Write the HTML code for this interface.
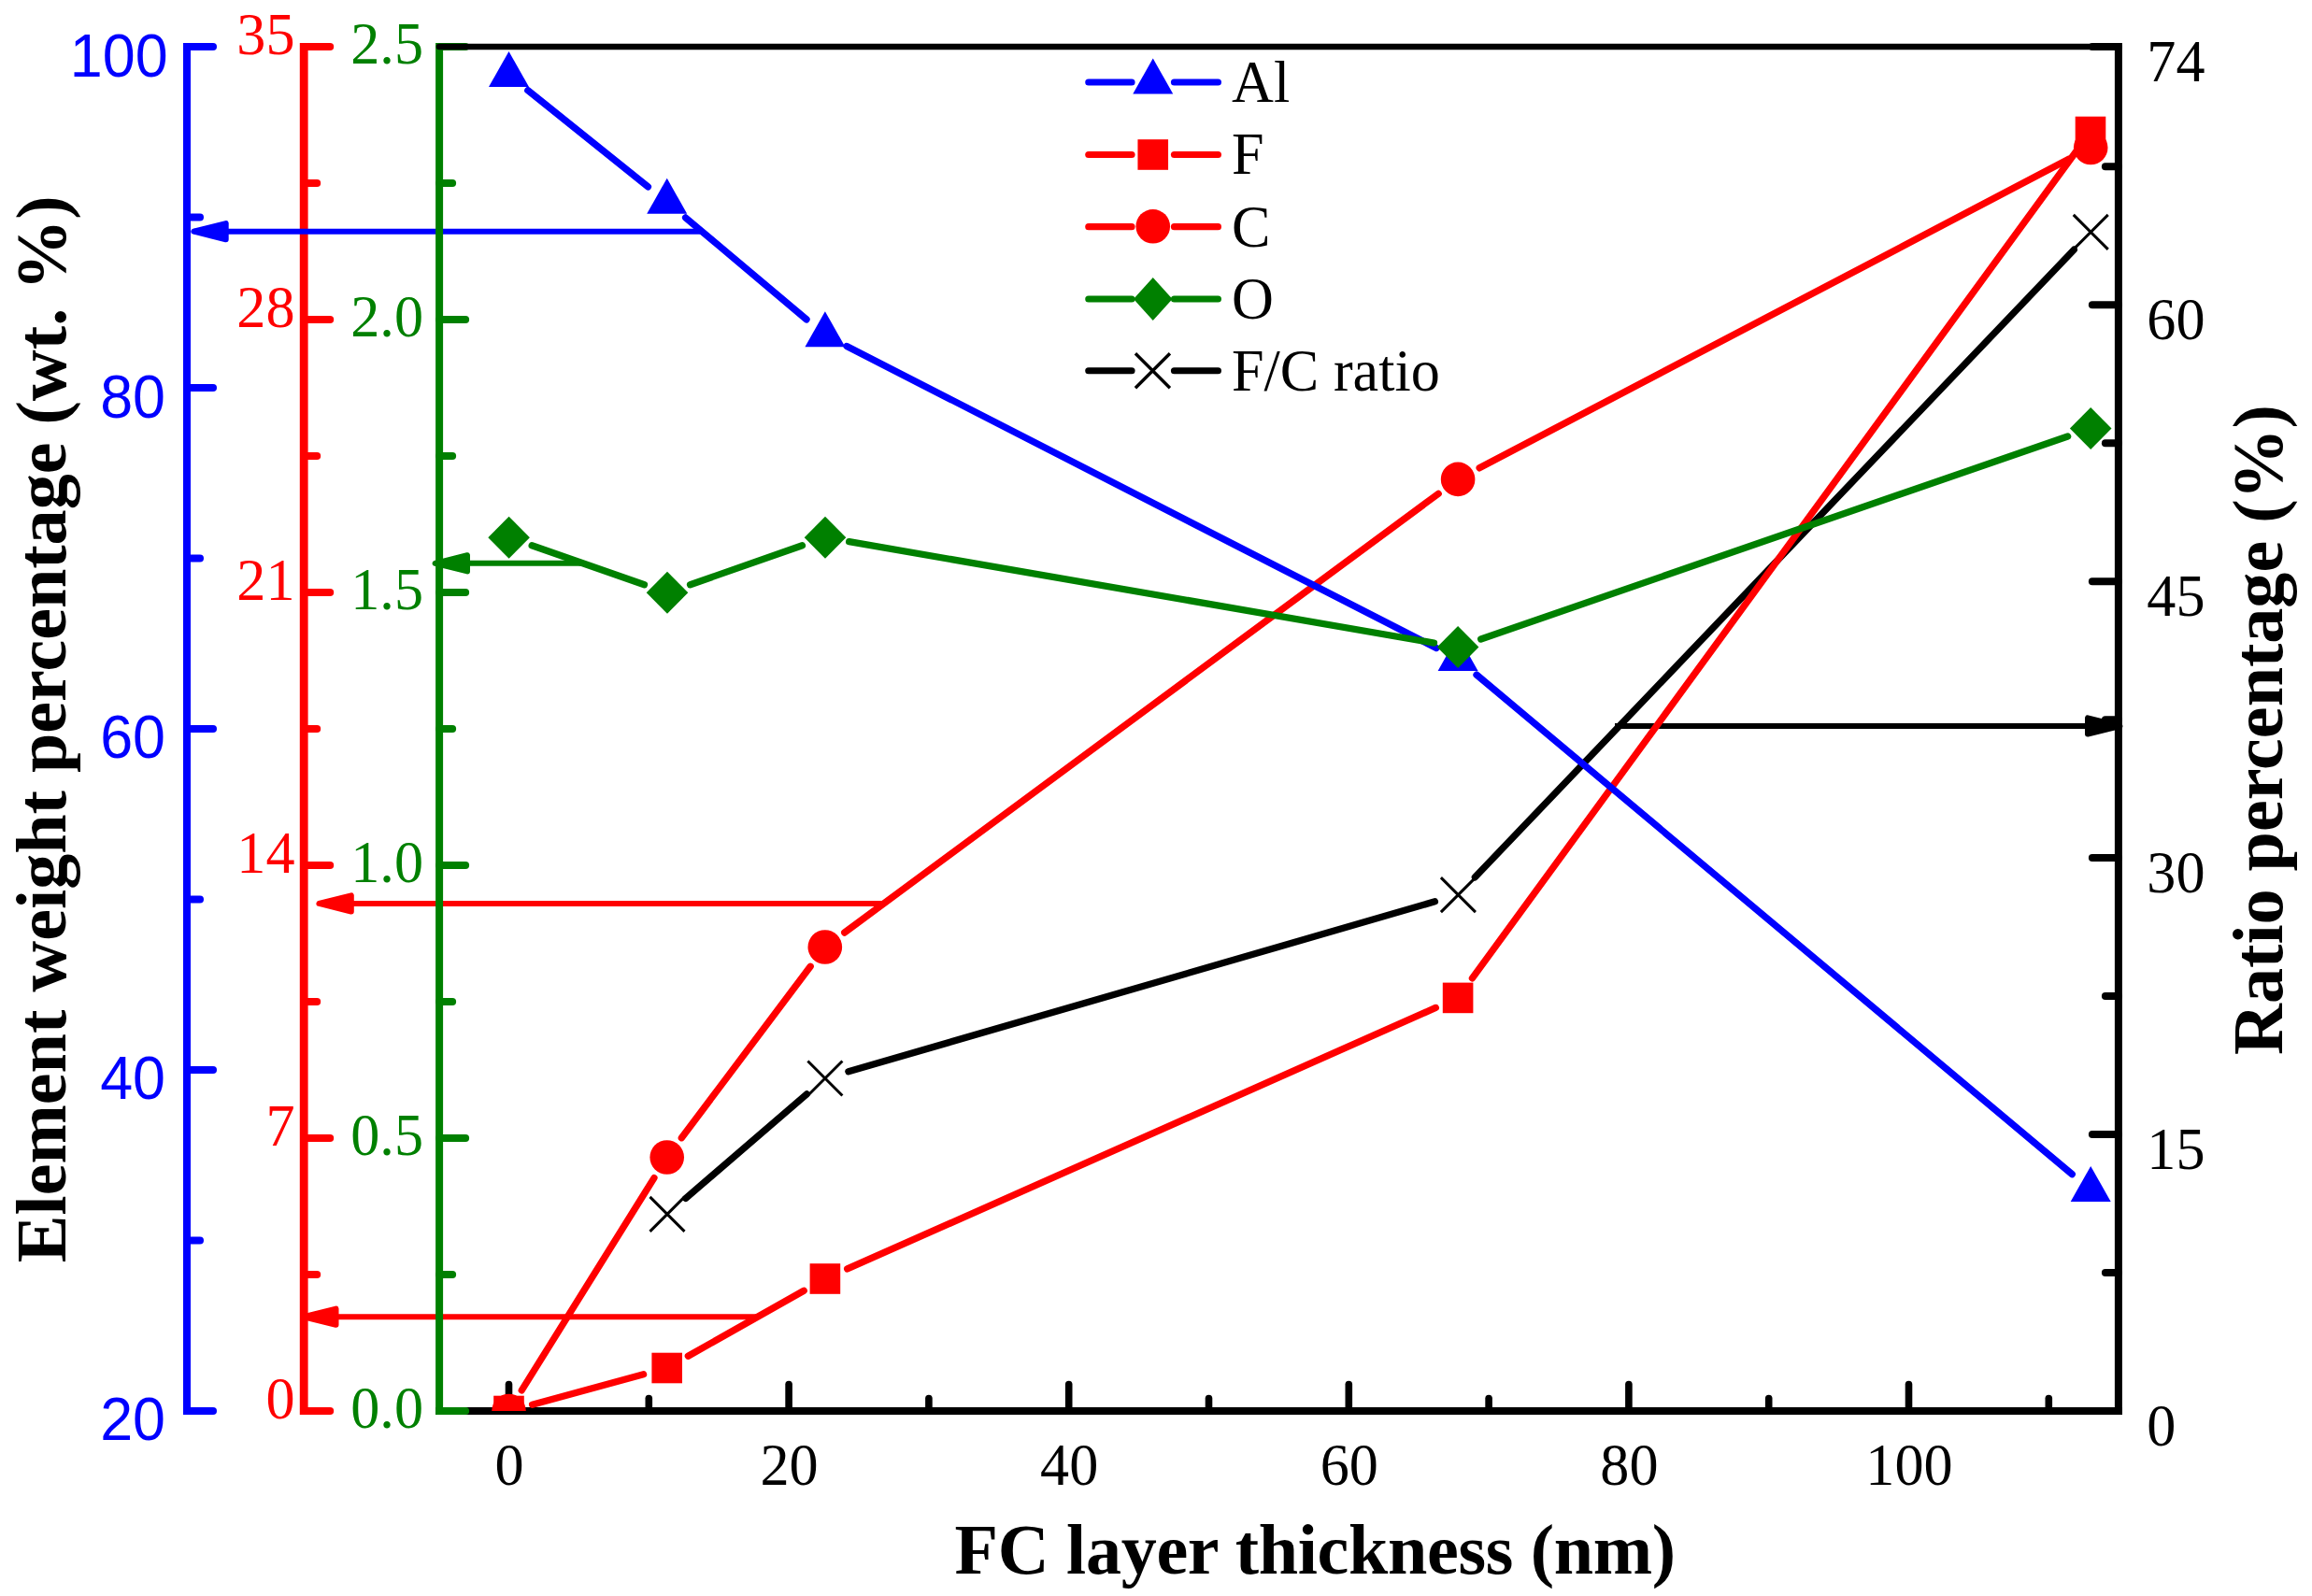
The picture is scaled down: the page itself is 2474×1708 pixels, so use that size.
<!DOCTYPE html>
<html lang="en">
<head>
<meta charset="utf-8">
<title>Element weight percentage vs FC layer thickness</title>
<style>html,body{margin:0;padding:0;background:#fff}svg{display:block}</style>
</head>
<body>
<svg width="2474" height="1708" viewBox="0 0 2474 1708">
<defs><clipPath id="plot"><rect x="470.1" y="0" width="1796.8" height="1510"/></clipPath></defs>
<rect width="2474" height="1708" fill="#ffffff"/>
<line x1="470.1" y1="1510" x2="2266.9" y2="1510" stroke="#000000" stroke-width="8.0" stroke-linecap="square"/>
<line x1="544.5" y1="1510" x2="544.5" y2="1481.5" stroke="#000000" stroke-width="7.6" stroke-linecap="round"/>
<line x1="844.1" y1="1510" x2="844.1" y2="1481.5" stroke="#000000" stroke-width="7.6" stroke-linecap="round"/>
<line x1="1143.7" y1="1510" x2="1143.7" y2="1481.5" stroke="#000000" stroke-width="7.6" stroke-linecap="round"/>
<line x1="1443.3" y1="1510" x2="1443.3" y2="1481.5" stroke="#000000" stroke-width="7.6" stroke-linecap="round"/>
<line x1="1742.9" y1="1510" x2="1742.9" y2="1481.5" stroke="#000000" stroke-width="7.6" stroke-linecap="round"/>
<line x1="2042.5" y1="1510" x2="2042.5" y2="1481.5" stroke="#000000" stroke-width="7.6" stroke-linecap="round"/>
<line x1="694.3" y1="1510" x2="694.3" y2="1496.5" stroke="#000000" stroke-width="7.6" stroke-linecap="round"/>
<line x1="993.9" y1="1510" x2="993.9" y2="1496.5" stroke="#000000" stroke-width="7.6" stroke-linecap="round"/>
<line x1="1293.5" y1="1510" x2="1293.5" y2="1496.5" stroke="#000000" stroke-width="7.6" stroke-linecap="round"/>
<line x1="1593.1" y1="1510" x2="1593.1" y2="1496.5" stroke="#000000" stroke-width="7.6" stroke-linecap="round"/>
<line x1="1892.7" y1="1510" x2="1892.7" y2="1496.5" stroke="#000000" stroke-width="7.6" stroke-linecap="round"/>
<line x1="2192.3" y1="1510" x2="2192.3" y2="1496.5" stroke="#000000" stroke-width="7.6" stroke-linecap="round"/>
<line x1="2266.9" y1="50" x2="2266.9" y2="1510" stroke="#000000" stroke-width="8.0" stroke-linecap="square"/>
<line x1="2266.9" y1="1510" x2="2238.9" y2="1510" stroke="#000000" stroke-width="8.0" stroke-linecap="round"/>
<line x1="2266.9" y1="1214.05" x2="2238.9" y2="1214.05" stroke="#000000" stroke-width="8.0" stroke-linecap="round"/>
<line x1="2266.9" y1="918.11" x2="2238.9" y2="918.11" stroke="#000000" stroke-width="8.0" stroke-linecap="round"/>
<line x1="2266.9" y1="622.16" x2="2238.9" y2="622.16" stroke="#000000" stroke-width="8.0" stroke-linecap="round"/>
<line x1="2266.9" y1="326.22" x2="2238.9" y2="326.22" stroke="#000000" stroke-width="8.0" stroke-linecap="round"/>
<line x1="2266.9" y1="50" x2="2238.9" y2="50" stroke="#000000" stroke-width="8.0" stroke-linecap="round"/>
<line x1="2266.9" y1="1362.03" x2="2252.9" y2="1362.03" stroke="#000000" stroke-width="8.0" stroke-linecap="round"/>
<line x1="2266.9" y1="1066.08" x2="2252.9" y2="1066.08" stroke="#000000" stroke-width="8.0" stroke-linecap="round"/>
<line x1="2266.9" y1="770.14" x2="2252.9" y2="770.14" stroke="#000000" stroke-width="8.0" stroke-linecap="round"/>
<line x1="2266.9" y1="474.19" x2="2252.9" y2="474.19" stroke="#000000" stroke-width="8.0" stroke-linecap="round"/>
<line x1="2266.9" y1="178.24" x2="2252.9" y2="178.24" stroke="#000000" stroke-width="8.0" stroke-linecap="round"/>
<line x1="733.7" y1="1282.44" x2="863.2" y2="1170.96" stroke="#000000" stroke-width="7.3" stroke-linecap="round"/>
<line x1="907.87" y1="1146.76" x2="1535.43" y2="964.84" stroke="#000000" stroke-width="7.3" stroke-linecap="round"/>
<line x1="1578.35" y1="938.79" x2="2219.3" y2="267.21" stroke="#000000" stroke-width="7.3" stroke-linecap="round"/>
<path d="M695.5,1280.9 L732.5,1317.9 M695.5,1317.9 L732.5,1280.9" stroke="#000000" stroke-width="3.0" fill="none"/>
<path d="M864.4,1135.5 L901.4,1172.5 M864.4,1172.5 L901.4,1135.5" stroke="#000000" stroke-width="3.0" fill="none"/>
<path d="M1541.9,939.1 L1578.9,976.1 M1541.9,976.1 L1578.9,939.1" stroke="#000000" stroke-width="3.0" fill="none"/>
<path d="M2218.75,229.9 L2255.75,266.9 M2218.75,266.9 L2255.75,229.9" stroke="#000000" stroke-width="3.0" fill="none"/>
<line x1="1728" y1="777" x2="2268.4" y2="777" stroke="#000000" stroke-width="6.0"/>
<polygon points="2268.4,777 2234,768.4 2234,785.6" fill="#000000" stroke="#000000" stroke-width="6.0" stroke-linejoin="round"/>
<line x1="325.2" y1="50.4" x2="325.2" y2="1509.6" stroke="#ff0000" stroke-width="8.8" stroke-linecap="square"/>
<line x1="325.2" y1="1510" x2="353.2" y2="1510" stroke="#ff0000" stroke-width="8.0" stroke-linecap="round"/>
<line x1="325.2" y1="1218" x2="353.2" y2="1218" stroke="#ff0000" stroke-width="8.0" stroke-linecap="round"/>
<line x1="325.2" y1="926" x2="353.2" y2="926" stroke="#ff0000" stroke-width="8.0" stroke-linecap="round"/>
<line x1="325.2" y1="634" x2="353.2" y2="634" stroke="#ff0000" stroke-width="8.0" stroke-linecap="round"/>
<line x1="325.2" y1="342" x2="353.2" y2="342" stroke="#ff0000" stroke-width="8.0" stroke-linecap="round"/>
<line x1="325.2" y1="50" x2="353.2" y2="50" stroke="#ff0000" stroke-width="8.0" stroke-linecap="round"/>
<line x1="325.2" y1="1364" x2="339.2" y2="1364" stroke="#ff0000" stroke-width="8.0" stroke-linecap="round"/>
<line x1="325.2" y1="1072" x2="339.2" y2="1072" stroke="#ff0000" stroke-width="8.0" stroke-linecap="round"/>
<line x1="325.2" y1="780" x2="339.2" y2="780" stroke="#ff0000" stroke-width="8.0" stroke-linecap="round"/>
<line x1="325.2" y1="488" x2="339.2" y2="488" stroke="#ff0000" stroke-width="8.0" stroke-linecap="round"/>
<line x1="325.2" y1="196" x2="339.2" y2="196" stroke="#ff0000" stroke-width="8.0" stroke-linecap="round"/>
<line x1="569.59" y1="1503.18" x2="688.61" y2="1470.82" stroke="#ff0000" stroke-width="7.3" stroke-linecap="round" clip-path="url(#plot)"/>
<line x1="736.34" y1="1451.22" x2="860.26" y2="1381.28" stroke="#ff0000" stroke-width="7.3" stroke-linecap="round" clip-path="url(#plot)"/>
<line x1="906.66" y1="1357.95" x2="1536.34" y2="1078.45" stroke="#ff0000" stroke-width="7.3" stroke-linecap="round" clip-path="url(#plot)"/>
<line x1="1575.43" y1="1046.9" x2="2221.67" y2="162" stroke="#ff0000" stroke-width="7.3" stroke-linecap="round" clip-path="url(#plot)"/>
<rect x="528.2" y="1493.7" width="32.6" height="32.6" fill="#ff0000" clip-path="url(#plot)"/>
<rect x="697.4" y="1447.7" width="32.6" height="32.6" fill="#ff0000" clip-path="url(#plot)"/>
<rect x="866.6" y="1352.2" width="32.6" height="32.6" fill="#ff0000" clip-path="url(#plot)"/>
<rect x="1543.8" y="1051.6" width="32.6" height="32.6" fill="#ff0000" clip-path="url(#plot)"/>
<rect x="2220.7" y="124.7" width="32.6" height="32.6" fill="#ff0000" clip-path="url(#plot)"/>
<line x1="558.25" y1="1487.93" x2="699.95" y2="1260.57" stroke="#ff0000" stroke-width="7.3" stroke-linecap="round" clip-path="url(#plot)"/>
<line x1="729.32" y1="1217.72" x2="867.18" y2="1034.28" stroke="#ff0000" stroke-width="7.3" stroke-linecap="round" clip-path="url(#plot)"/>
<line x1="903.71" y1="998.05" x2="1539.19" y2="528.35" stroke="#ff0000" stroke-width="7.3" stroke-linecap="round" clip-path="url(#plot)"/>
<line x1="1583.13" y1="500.83" x2="2214.17" y2="170.07" stroke="#ff0000" stroke-width="7.3" stroke-linecap="round" clip-path="url(#plot)"/>
<circle cx="544.5" cy="1510" r="18.3" fill="#ff0000" clip-path="url(#plot)"/>
<circle cx="713.7" cy="1238.5" r="18.3" fill="#ff0000" clip-path="url(#plot)"/>
<circle cx="882.8" cy="1013.5" r="18.3" fill="#ff0000" clip-path="url(#plot)"/>
<circle cx="1560.1" cy="512.9" r="18.3" fill="#ff0000" clip-path="url(#plot)"/>
<circle cx="2237.2" cy="158" r="18.3" fill="#ff0000" clip-path="url(#plot)"/>
<line x1="325.1" y1="1409.25" x2="810.5" y2="1409.25" stroke="#ff0000" stroke-width="6.0"/>
<polygon points="325.1,1409.25 359.5,1400.65 359.5,1417.85" fill="#ff0000" stroke="#ff0000" stroke-width="6.0" stroke-linejoin="round"/>
<line x1="341.4" y1="966.9" x2="945.5" y2="966.9" stroke="#ff0000" stroke-width="6.0"/>
<polygon points="341.4,966.9 375.8,958.3 375.8,975.5" fill="#ff0000" stroke="#ff0000" stroke-width="6.0" stroke-linejoin="round"/>
<line x1="200" y1="50" x2="200" y2="1510" stroke="#0000ff" stroke-width="8.0" stroke-linecap="square"/>
<line x1="200" y1="1510" x2="228" y2="1510" stroke="#0000ff" stroke-width="8.0" stroke-linecap="round"/>
<line x1="200" y1="1145" x2="228" y2="1145" stroke="#0000ff" stroke-width="8.0" stroke-linecap="round"/>
<line x1="200" y1="780" x2="228" y2="780" stroke="#0000ff" stroke-width="8.0" stroke-linecap="round"/>
<line x1="200" y1="415" x2="228" y2="415" stroke="#0000ff" stroke-width="8.0" stroke-linecap="round"/>
<line x1="200" y1="50" x2="228" y2="50" stroke="#0000ff" stroke-width="8.0" stroke-linecap="round"/>
<line x1="200" y1="1327.5" x2="214" y2="1327.5" stroke="#0000ff" stroke-width="8.0" stroke-linecap="round"/>
<line x1="200" y1="962.5" x2="214" y2="962.5" stroke="#0000ff" stroke-width="8.0" stroke-linecap="round"/>
<line x1="200" y1="597.5" x2="214" y2="597.5" stroke="#0000ff" stroke-width="8.0" stroke-linecap="round"/>
<line x1="200" y1="232.5" x2="214" y2="232.5" stroke="#0000ff" stroke-width="8.0" stroke-linecap="round"/>
<line x1="564.78" y1="96.67" x2="693.42" y2="199.93" stroke="#0000ff" stroke-width="7.3" stroke-linecap="round"/>
<line x1="733.59" y1="232.94" x2="863.01" y2="341.86" stroke="#0000ff" stroke-width="7.3" stroke-linecap="round"/>
<line x1="906.04" y1="370.45" x2="1536.96" y2="693.55" stroke="#0000ff" stroke-width="7.3" stroke-linecap="round"/>
<line x1="1580.02" y1="722.11" x2="2217.28" y2="1256.59" stroke="#0000ff" stroke-width="7.3" stroke-linecap="round"/>
<polygon points="544.5,55 523,93 566,93" fill="#0000ff"/>
<polygon points="713.7,190.8 692.2,228.8 735.2,228.8" fill="#0000ff"/>
<polygon points="882.9,333.2 861.4,371.2 904.4,371.2" fill="#0000ff"/>
<polygon points="1560.1,680 1538.6,718 1581.6,718" fill="#0000ff"/>
<polygon points="2237.2,1247.9 2215.7,1285.9 2258.7,1285.9" fill="#0000ff"/>
<line x1="207.3" y1="247.7" x2="750.8" y2="247.7" stroke="#0000ff" stroke-width="6.0"/>
<polygon points="207.3,247.7 241.7,239.1 241.7,256.3" fill="#0000ff" stroke="#0000ff" stroke-width="6.0" stroke-linejoin="round"/>
<line x1="470.1" y1="50" x2="470.1" y2="1510" stroke="#008000" stroke-width="8.0" stroke-linecap="square"/>
<line x1="470.1" y1="1510" x2="498.1" y2="1510" stroke="#008000" stroke-width="8.0" stroke-linecap="round"/>
<line x1="470.1" y1="1218" x2="498.1" y2="1218" stroke="#008000" stroke-width="8.0" stroke-linecap="round"/>
<line x1="470.1" y1="926" x2="498.1" y2="926" stroke="#008000" stroke-width="8.0" stroke-linecap="round"/>
<line x1="470.1" y1="634" x2="498.1" y2="634" stroke="#008000" stroke-width="8.0" stroke-linecap="round"/>
<line x1="470.1" y1="342" x2="498.1" y2="342" stroke="#008000" stroke-width="8.0" stroke-linecap="round"/>
<line x1="470.1" y1="50" x2="498.1" y2="50" stroke="#008000" stroke-width="8.0" stroke-linecap="round"/>
<line x1="470.1" y1="1364" x2="484.1" y2="1364" stroke="#008000" stroke-width="8.0" stroke-linecap="round"/>
<line x1="470.1" y1="1072" x2="484.1" y2="1072" stroke="#008000" stroke-width="8.0" stroke-linecap="round"/>
<line x1="470.1" y1="780" x2="484.1" y2="780" stroke="#008000" stroke-width="8.0" stroke-linecap="round"/>
<line x1="470.1" y1="488" x2="484.1" y2="488" stroke="#008000" stroke-width="8.0" stroke-linecap="round"/>
<line x1="470.1" y1="196" x2="484.1" y2="196" stroke="#008000" stroke-width="8.0" stroke-linecap="round"/>
<line x1="569.15" y1="583.8" x2="689.45" y2="625.7" stroke="#008000" stroke-width="7.3" stroke-linecap="round"/>
<line x1="738.55" y1="625.68" x2="858.45" y2="583.82" stroke="#008000" stroke-width="7.3" stroke-linecap="round"/>
<line x1="908.62" y1="579.69" x2="1534.48" y2="688.06" stroke="#008000" stroke-width="7.3" stroke-linecap="round"/>
<line x1="1584.67" y1="684.01" x2="2212.63" y2="466.99" stroke="#008000" stroke-width="7.3" stroke-linecap="round"/>
<polygon points="544.6,552.65 566.9,575.25 544.6,597.85 522.3,575.25" fill="#008000"/>
<polygon points="714,611.65 736.3,634.25 714,656.85 691.7,634.25" fill="#008000"/>
<polygon points="883,552.65 905.3,575.25 883,597.85 860.7,575.25" fill="#008000"/>
<polygon points="1560.1,669.9 1582.4,692.5 1560.1,715.1 1537.8,692.5" fill="#008000"/>
<polygon points="2237.2,435.9 2259.5,458.5 2237.2,481.1 2214.9,458.5" fill="#008000"/>
<line x1="465.6" y1="602.8" x2="623.8" y2="602.8" stroke="#008000" stroke-width="6.0"/>
<polygon points="465.6,602.8 500,594.2 500,611.4" fill="#008000" stroke="#008000" stroke-width="6.0" stroke-linejoin="round"/>
<line x1="470.1" y1="50" x2="2266.9" y2="50" stroke="#000000" stroke-width="6.6" stroke-linecap="round"/>
<line x1="1164.8" y1="88" x2="1211" y2="88" stroke="#0000ff" stroke-width="7.2" stroke-linecap="round"/>
<line x1="1256.5" y1="88" x2="1303.4" y2="88" stroke="#0000ff" stroke-width="7.2" stroke-linecap="round"/>
<line x1="1164.8" y1="165.5" x2="1211" y2="165.5" stroke="#ff0000" stroke-width="7.2" stroke-linecap="round"/>
<line x1="1256.5" y1="165.5" x2="1303.4" y2="165.5" stroke="#ff0000" stroke-width="7.2" stroke-linecap="round"/>
<line x1="1164.8" y1="242.7" x2="1211" y2="242.7" stroke="#ff0000" stroke-width="7.2" stroke-linecap="round"/>
<line x1="1256.5" y1="242.7" x2="1303.4" y2="242.7" stroke="#ff0000" stroke-width="7.2" stroke-linecap="round"/>
<line x1="1164.8" y1="320" x2="1211" y2="320" stroke="#008000" stroke-width="7.2" stroke-linecap="round"/>
<line x1="1256.5" y1="320" x2="1303.4" y2="320" stroke="#008000" stroke-width="7.2" stroke-linecap="round"/>
<line x1="1164.8" y1="396.75" x2="1211" y2="396.75" stroke="#000000" stroke-width="7.2" stroke-linecap="round"/>
<line x1="1256.5" y1="396.75" x2="1303.4" y2="396.75" stroke="#000000" stroke-width="7.2" stroke-linecap="round"/>
<polygon points="1233.75,62.5 1212.25,100.5 1255.25,100.5" fill="#0000ff"/>
<rect x="1217.45" y="149.2" width="32.6" height="32.6" fill="#ff0000"/>
<circle cx="1233.75" cy="242.3" r="18.3" fill="#ff0000"/>
<polygon points="1233.75,297 1254.55,320 1233.75,343 1212.95,320" fill="#008000"/>
<path d="M1214.95,378.2 L1251.95,415.2 M1214.95,415.2 L1251.95,378.2" stroke="#000000" stroke-width="3.4" fill="none"/>
<text transform="translate(1318,108.9) scale(1,1.015)" font-family="&quot;Liberation Serif&quot;,serif" font-size="62.2" fill="#000000">Al</text>
<text transform="translate(1318,186.4) scale(1,1.015)" font-family="&quot;Liberation Serif&quot;,serif" font-size="62.2" fill="#000000">F</text>
<text transform="translate(1318,263.6) scale(1,1.015)" font-family="&quot;Liberation Serif&quot;,serif" font-size="62.2" fill="#000000">C</text>
<text transform="translate(1318,340.9) scale(1,1.015)" font-family="&quot;Liberation Serif&quot;,serif" font-size="62.2" fill="#000000">O</text>
<text transform="translate(1318,417.65) scale(1,1.015)" font-family="&quot;Liberation Serif&quot;,serif" font-size="62.2" fill="#000000">F/C ratio</text>
<text transform="translate(177,1540.75) scale(1,1.026)" font-family="&quot;Liberation Sans&quot;,sans-serif" font-size="62.8" fill="#0000ff" text-anchor="end">20</text>
<text transform="translate(177,1176.06) scale(1,1.026)" font-family="&quot;Liberation Sans&quot;,sans-serif" font-size="62.8" fill="#0000ff" text-anchor="end">40</text>
<text transform="translate(177,811.38) scale(1,1.026)" font-family="&quot;Liberation Sans&quot;,sans-serif" font-size="62.8" fill="#0000ff" text-anchor="end">60</text>
<text transform="translate(177,446.69) scale(1,1.026)" font-family="&quot;Liberation Sans&quot;,sans-serif" font-size="62.8" fill="#0000ff" text-anchor="end">80</text>
<text transform="translate(179.6,82) scale(1,1.026)" font-family="&quot;Liberation Sans&quot;,sans-serif" font-size="62.8" fill="#0000ff" text-anchor="end">100</text>
<text transform="translate(315.5,1518) scale(1,1.015)" font-family="&quot;Liberation Serif&quot;,serif" font-size="62.2" fill="#ff0000" text-anchor="end">0</text>
<text transform="translate(315.5,1226) scale(1,1.015)" font-family="&quot;Liberation Serif&quot;,serif" font-size="62.2" fill="#ff0000" text-anchor="end">7</text>
<text transform="translate(315.5,934) scale(1,1.015)" font-family="&quot;Liberation Serif&quot;,serif" font-size="62.2" fill="#ff0000" text-anchor="end">14</text>
<text transform="translate(315.5,642) scale(1,1.015)" font-family="&quot;Liberation Serif&quot;,serif" font-size="62.2" fill="#ff0000" text-anchor="end">21</text>
<text transform="translate(315.5,350) scale(1,1.015)" font-family="&quot;Liberation Serif&quot;,serif" font-size="62.2" fill="#ff0000" text-anchor="end">28</text>
<text transform="translate(315.5,58) scale(1,1.015)" font-family="&quot;Liberation Serif&quot;,serif" font-size="62.2" fill="#ff0000" text-anchor="end">35</text>
<text transform="translate(453,1527.6) scale(1,1.015)" font-family="&quot;Liberation Serif&quot;,serif" font-size="62.2" fill="#008000" text-anchor="end">0.0</text>
<text transform="translate(453,1235.6) scale(1,1.015)" font-family="&quot;Liberation Serif&quot;,serif" font-size="62.2" fill="#008000" text-anchor="end">0.5</text>
<text transform="translate(453,943.6) scale(1,1.015)" font-family="&quot;Liberation Serif&quot;,serif" font-size="62.2" fill="#008000" text-anchor="end">1.0</text>
<text transform="translate(453,651.6) scale(1,1.015)" font-family="&quot;Liberation Serif&quot;,serif" font-size="62.2" fill="#008000" text-anchor="end">1.5</text>
<text transform="translate(453,359.6) scale(1,1.015)" font-family="&quot;Liberation Serif&quot;,serif" font-size="62.2" fill="#008000" text-anchor="end">2.0</text>
<text transform="translate(453,67.6) scale(1,1.015)" font-family="&quot;Liberation Serif&quot;,serif" font-size="62.2" fill="#008000" text-anchor="end">2.5</text>
<text transform="translate(2297.3,1546.9) scale(1,1.015)" font-family="&quot;Liberation Serif&quot;,serif" font-size="62.2" fill="#000000">0</text>
<text transform="translate(2297.3,1250.95) scale(1,1.015)" font-family="&quot;Liberation Serif&quot;,serif" font-size="62.2" fill="#000000">15</text>
<text transform="translate(2297.3,955.01) scale(1,1.015)" font-family="&quot;Liberation Serif&quot;,serif" font-size="62.2" fill="#000000">30</text>
<text transform="translate(2297.3,659.06) scale(1,1.015)" font-family="&quot;Liberation Serif&quot;,serif" font-size="62.2" fill="#000000">45</text>
<text transform="translate(2297.3,363.12) scale(1,1.015)" font-family="&quot;Liberation Serif&quot;,serif" font-size="62.2" fill="#000000">60</text>
<text transform="translate(2297.3,86.9) scale(1,1.015)" font-family="&quot;Liberation Serif&quot;,serif" font-size="62.2" fill="#000000">74</text>
<text transform="translate(545,1588.9) scale(1,1.015)" font-family="&quot;Liberation Serif&quot;,serif" font-size="62.2" fill="#000000" text-anchor="middle">0</text>
<text transform="translate(844.6,1588.9) scale(1,1.015)" font-family="&quot;Liberation Serif&quot;,serif" font-size="62.2" fill="#000000" text-anchor="middle">20</text>
<text transform="translate(1144.2,1588.9) scale(1,1.015)" font-family="&quot;Liberation Serif&quot;,serif" font-size="62.2" fill="#000000" text-anchor="middle">40</text>
<text transform="translate(1443.8,1588.9) scale(1,1.015)" font-family="&quot;Liberation Serif&quot;,serif" font-size="62.2" fill="#000000" text-anchor="middle">60</text>
<text transform="translate(1743.4,1588.9) scale(1,1.015)" font-family="&quot;Liberation Serif&quot;,serif" font-size="62.2" fill="#000000" text-anchor="middle">80</text>
<text transform="translate(2043,1588.9) scale(1,1.015)" font-family="&quot;Liberation Serif&quot;,serif" font-size="62.2" fill="#000000" text-anchor="middle">100</text>
<text transform="translate(1407.4,1683.7)" font-family="&quot;Liberation Serif&quot;,serif" font-size="76.1" font-weight="bold" fill="#000000" text-anchor="middle" textLength="771.6" lengthAdjust="spacing">FC layer thickness (nm)</text>
<text transform="translate(69.8,780.3) rotate(-90)" font-family="&quot;Liberation Serif&quot;,serif" font-size="76.1" font-weight="bold" fill="#000000" text-anchor="middle">Element weight percentage (wt. %)</text>
<text transform="translate(2442.3,781) rotate(-90)" font-family="&quot;Liberation Serif&quot;,serif" font-size="76.1" font-weight="bold" fill="#000000" text-anchor="middle">Ratio percentage (%)</text>
</svg>
</body>
</html>
